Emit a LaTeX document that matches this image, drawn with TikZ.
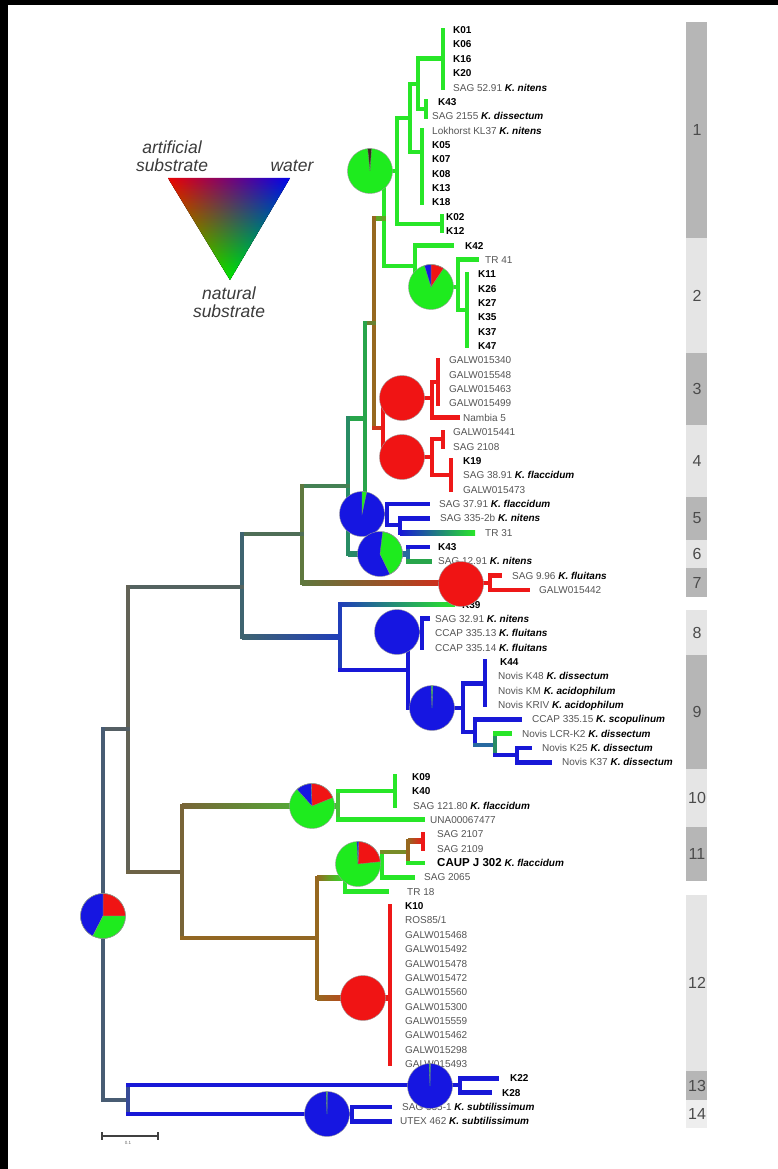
\documentclass[tikz,border=0pt]{standalone}
\usepackage{fontspec}
\setmainfont{Liberation Sans}
\definecolor{cG}{RGB}{40,230,40}
\definecolor{cG2}{RGB}{70,195,55}
\definecolor{cR}{RGB}{238,24,24}
\definecolor{cB}{RGB}{24,24,215}
\definecolor{cBr}{RGB}{150,104,32}
\definecolor{cOl}{RGB}{110,112,60}
\definecolor{cOG}{RGB}{95,120,62}
\definecolor{cOB}{RGB}{120,100,55}
\definecolor{cOlG}{RGB}{120,140,40}
\definecolor{cTeal}{RGB}{40,140,100}
\definecolor{cTB}{RGB}{40,105,160}
\definecolor{cGT}{RGB}{40,165,75}
\definecolor{cSl}{RGB}{72,92,115}
\definecolor{cSlB}{RGB}{55,75,150}
\definecolor{cGy}{RGB}{98,98,86}
\definecolor{cTG}{RGB}{62,100,112}
\definecolor{cBl2}{RGB}{32,62,185}
\definecolor{cBrR}{RGB}{165,75,35}
\definecolor{labgray}{RGB}{85,85,85}
\definecolor{numgray}{RGB}{75,75,75}
\definecolor{leggray}{RGB}{60,60,60}
\definecolor{bandD}{RGB}{182,182,182}
\definecolor{bandL}{RGB}{229,229,229}
\definecolor{bandLL}{RGB}{238,238,238}
\definecolor{pR}{RGB}{240,20,20}
\definecolor{pG}{RGB}{30,235,30}
\definecolor{pB}{RGB}{22,22,225}
\definecolor{pK}{RGB}{60,40,30}
\definecolor{lgR}{RGB}{240,0,0}
\definecolor{lgB}{RGB}{0,0,240}
\definecolor{lgG}{RGB}{0,225,0}
\newcommand\hl[4]{\draw[br,#4] (#1,#3) -- (#2,#3);}
\newcommand\vl[4]{\draw[br,#4] (#1,#2) -- (#1,#3);}
\newcommand\hg[5]{\fill[left color=#4,right color=#5] (#1,{#3-2.4}) rectangle (#2,{#3+2.4});}
\newcommand\pbase[3]{\fill[#3] (#1,#2) circle[radius=22.5pt];}
\newcommand\pw[5]{\filldraw[fill=#5,draw=black!45,line width=0.3pt] (#1,#2) -- ++(#3:22.5pt) arc[start angle=#3,end angle=#4,radius=22.5pt] -- cycle;}
\newcommand\pout[2]{\draw[black!40,line width=0.4pt] (#1,#2) circle[radius=22.5pt];}
\newcommand\lf[3]{\node[lab] (t#1) at (#2,{30+14.36*#1+3.6}) {#3};}
\newcommand\kb[1]{{\color{black}\bfseries #1}}
\newcommand\spn[1]{{\color{black}\bfseries\itshape #1}}
\newcommand\bnd[4]{\fill[#4] (686,#1) rectangle (707,#2); \node[bandlab] (b#3) at (697,{(#1+#2)/2}) {#3};}
\begin{document}
\begin{tikzpicture}[x=1pt,y=-1pt,
  br/.style={line width=4.8pt,line cap=rect},
  lab/.style={anchor=base west,inner sep=0pt,font=\fontsize{10}{12}\selectfont,text=labgray},
  bandlab/.style={inner sep=0pt,font=\fontsize{16}{18}\selectfont,text=numgray},
  leg/.style={anchor=base,inner sep=0pt,font=\fontsize{17.5}{20}\selectfont\itshape,text=leggray}]
\useasboundingbox (0,0) rectangle (778,1169);
\fill[white] (0,0) rectangle (778,1169);
% bands
\bnd{22}{238}{1}{bandD}
\bnd{238}{353}{2}{bandL}
\bnd{353}{425}{3}{bandD}
\bnd{425}{497}{4}{bandL}
\bnd{497}{540}{5}{bandD}
\bnd{540}{568}{6}{bandL}
\bnd{568}{597}{7}{bandD}
\bnd{610}{655}{8}{bandL}
\bnd{655}{769}{9}{bandD}
\bnd{769}{827}{10}{bandL}
\bnd{827}{881}{11}{bandD}
\bnd{895}{1071}{12}{bandL}
\bnd{1071}{1100}{13}{bandD}
\bnd{1100}{1128}{14}{bandLL}
% legend triangle (barycentric colour blend built from thin strips)
\begin{scope}
\clip (168,178) -- (290,178) -- (230,280) -- cycle;
\foreach \i in {0,...,50}{
  \pgfmathsetmacro\ta{\i/51}
  \pgfmathsetmacro\tb{(\i+1)/51}
  \pgfmathsetmacro\tm{(\i+0.5)*100/51}
  \fill[left color=lgG!\tm!lgR,right color=lgG!\tm!lgB]
    ({167+63*\ta},{178+102*\ta-0.2}) rectangle ({291-61*\ta},{178+102*\tb+1.6});
}
\end{scope}
\node[leg] (la1) at (172,154) {artificial};
\node[leg] (la2) at (172,172) {substrate};
\node[leg] (lw) at (292,172) {water};
\node[leg] (ln1) at (229,299) {natural};
\node[leg] (ln2) at (229,317) {substrate};
% ---- tree ----
% clade 1
\vl{443}{30}{87.4}{cG}
\hl{418}{443}{58.7}{cG}
\vl{426}{101.8}{116.2}{cG}
\hl{418}{426}{109}{cG}
\vl{418}{58.7}{109}{cG}
\hl{410}{418}{84}{cG}
\vl{422}{130.5}{202.3}{cG}
\hl{410}{422}{152}{cG}
\vl{410}{84}{152}{cG}
\hl{397}{410}{118}{cG}
\vl{442}{216.7}{231}{cG}
\hl{397}{442}{224}{cG}
\vl{397}{118}{224}{cG}
\hl{370}{397}{171}{cG}
\vl{384}{171}{266}{cG}
\hl{384}{415}{266}{cG}
% clade 2
\hl{415}{452}{245.4}{cG}
\vl{415}{245.4}{287}{cG}
\hl{415}{458}{287}{cG}
\vl{458}{259.8}{310}{cG}
\hl{458}{477}{259.8}{cG}
\hl{458}{467}{310}{cG}
\vl{467}{274.1}{345.9}{cG}
% backbone
\hl{374}{384}{218.5}{cBr!50!cG}
\vl{374}{218.5}{428}{cBr}
\hl{365}{374}{323}{cBr!60!cGT}
\vl{365}{323}{514}{cGT}
\hl{348}{365}{418.5}{cGT}
\vl{348}{418.5}{554}{cTeal}
\hl{302}{348}{486}{cTeal!60!cOl}
\vl{302}{486}{583}{cOG}
\hl{242}{302}{534}{cTG!50!cOG}
\vl{242}{534}{637}{cTG}
\hl{128}{242}{587}{cGy!60!cTG}
\vl{128}{587}{872}{cGy}
\hl{103}{128}{729}{cGy!50!cSl}
\vl{103}{729}{1100}{cSl}
% clades 3 and 4
\hl{374}{383}{428}{cBr!40!cR}
\vl{383}{398}{457}{cR}
\hl{383}{432}{398}{cR}
\vl{432}{382}{418}{cR}
\hl{432}{438}{382}{cR}
\vl{438}{360.3}{403.4}{cR}
\hl{432}{458}{417.7}{cR}
\hl{383}{432}{457}{cR}
\vl{432}{439}{475}{cR}
\hl{432}{443}{439}{cR}
\vl{443}{432}{446.4}{cR}
\hl{432}{451}{475}{cR}
\vl{451}{460.8}{489.5}{cR}
% clade 5
\hl{365}{387}{514}{cB}
\vl{387}{503.9}{525}{cB}
\hl{387}{428}{503.9}{cB}
\hl{387}{400}{525}{cB}
\vl{400}{518.2}{532.6}{cB}
\hl{400}{428}{518.2}{cB}
\hg{400}{475}{532.6}{cB}{cG}
% clade 6
\hg{348}{408}{554}{cTeal}{cTB}
\vl{408}{547}{561.3}{cTB}
\hl{408}{428}{547}{cB}
\hl{408}{430}{561.3}{cGT}
% clade 7
\hg{302}{400}{583}{cOG}{cBrR}
\hg{400}{470}{583}{cBrR}{cR}
\hl{470}{490}{583}{cR}
\vl{490}{575.7}{590}{cR}
\hl{490}{500}{575.7}{cR}
\hl{490}{528}{590}{cR}
% clade 8
\hg{242}{340}{637}{cTG}{cBl2}
\vl{340}{604.4}{670}{cBl2}
\hg{340}{455}{604.4}{cBl2}{cG}
\hl{340}{408}{670}{cB}
\vl{408}{632}{708}{cB}
\hl{408}{422}{632}{cB}
\vl{422}{618.8}{647.5}{cB}
\hl{422}{428}{618.8}{cB}
% clade 9
\hl{408}{463}{708}{cB}
\vl{463}{683.4}{732}{cB}
\hl{463}{485}{683.4}{cB}
\vl{485}{661.8}{704.9}{cB}
\hl{463}{475}{732}{cB}
\vl{475}{719.3}{745}{cB}
\hl{475}{520}{719.3}{cB}
\hl{475}{495}{745}{cTB}
\vl{495}{733.6}{755}{cTeal}
\hl{495}{510}{733.6}{cG}
\hl{495}{517}{755}{cB}
\vl{517}{748}{762.4}{cB}
\hl{517}{530}{748}{cB}
\hl{517}{550}{762.4}{cB}
% clades 10-12
\hl{128}{182}{872}{cGy!50!cOB}
\vl{182}{806}{938}{cOB}
\hg{182}{338}{806}{cOB}{cG2}
\vl{338}{791}{820}{cG2}
\hl{338}{395}{791}{cG}
\vl{395}{776.7}{805.4}{cG}
\hl{338}{423}{819.8}{cG}
\hl{182}{317}{938}{cBr!85!cOB}
\vl{317}{878}{998}{cBr}
\hg{317}{345}{878}{cBr}{cG}
\vl{345}{864}{891.6}{cG}
\hl{345}{387}{891.6}{cG}
\hl{345}{382}{864}{cG}
\vl{382}{852}{877.2}{cG}
\hl{382}{413}{877.2}{cG}
\hl{382}{408}{852}{cOlG}
\vl{408}{841}{862.9}{cBr}
\hg{408}{423}{841}{cBr}{cR}
\vl{423}{834.2}{848.5}{cR}
\hl{408}{423}{862.9}{cG}
\hg{317}{390}{998}{cBr}{cR}
\vl{390}{906}{1063.9}{cR}
% clades 13, 14
\hl{103}{128}{1100}{cSl}
\vl{128}{1085}{1114}{cSlB}
\hl{128}{460}{1085}{cB}
\vl{460}{1078.3}{1092.6}{cB}
\hl{460}{497}{1078.3}{cB}
\hl{460}{490}{1092.6}{cB}
\hl{128}{352}{1114}{cB}
\vl{352}{1107}{1121.4}{cB}
\hl{352}{390}{1107}{cB}
\hl{352}{390}{1121.4}{cB}
% scale bar
\draw[black!75,line width=1.3pt] (102,1136) -- (158,1136);
\draw[black!75,line width=1.3pt] (102,1132) -- (102,1140);
\draw[black!75,line width=1.3pt] (158,1132) -- (158,1140);
\node[font=\fontsize{4.5}{5}\selectfont,text=black!60,inner sep=0pt] (sb) at (128,1143) {0.1};
% ---- labels ----
\lf{0}{453}{\kb{K01}}
\lf{1}{453}{\kb{K06}}
\lf{2}{453}{\kb{K16}}
\lf{3}{453}{\kb{K20}}
\lf{4}{453}{SAG 52.91 \spn{K. nitens}}
\lf{5}{438}{\kb{K43}}
\lf{6}{432}{SAG 2155 \spn{K. dissectum}}
\lf{7}{432}{Lokhorst KL37 \spn{K. nitens}}
\lf{8}{432}{\kb{K05}}
\lf{9}{432}{\kb{K07}}
\lf{10}{432}{\kb{K08}}
\lf{11}{432}{\kb{K13}}
\lf{12}{432}{\kb{K18}}
\lf{13}{446}{\kb{K02}}
\lf{14}{446}{\kb{K12}}
\lf{15}{465}{\kb{K42}}
\lf{16}{485}{TR 41}
\lf{17}{478}{\kb{K11}}
\lf{18}{478}{\kb{K26}}
\lf{19}{478}{\kb{K27}}
\lf{20}{478}{\kb{K35}}
\lf{21}{478}{\kb{K37}}
\lf{22}{478}{\kb{K47}}
\lf{23}{449}{GALW015340}
\lf{24}{449}{GALW015548}
\lf{25}{449}{GALW015463}
\lf{26}{449}{GALW015499}
\lf{27}{463}{Nambia 5}
\lf{28}{453}{GALW015441}
\lf{29}{453}{SAG 2108}
\lf{30}{463}{\kb{K19}}
\lf{31}{463}{SAG 38.91 \spn{K. flaccidum}}
\lf{32}{463}{GALW015473}
\lf{33}{439}{SAG 37.91 \spn{K. flaccidum}}
\lf{34}{440}{SAG 335-2b \spn{K. nitens}}
\lf{35}{485}{TR 31}
\lf{36}{438}{\kb{K43}}
\lf{37}{438}{SAG 12.91 \spn{K. nitens}}
\lf{38}{512}{SAG 9.96 \spn{K. fluitans}}
\lf{39}{539}{GALW015442}
\lf{40}{462}{\kb{K39}}
\lf{41}{435}{SAG 32.91 \spn{K. nitens}}
\lf{42}{435}{CCAP 335.13 \spn{K. fluitans}}
\lf{43}{435}{CCAP 335.14 \spn{K. fluitans}}
\lf{44}{500}{\kb{K44}}
\lf{45}{498}{Novis K48 \spn{K. dissectum}}
\lf{46}{498}{Novis KM \spn{K. acidophilum}}
\lf{47}{498}{Novis KRIV \spn{K. acidophilum}}
\lf{48}{532}{CCAP 335.15 \spn{K. scopulinum}}
\lf{49}{522}{Novis LCR-K2 \spn{K. dissectum}}
\lf{50}{542}{Novis K25 \spn{K. dissectum}}
\lf{51}{562}{Novis K37 \spn{K. dissectum}}
\lf{52}{412}{\kb{K09}}
\lf{53}{412}{\kb{K40}}
\lf{54}{413}{SAG 121.80 \spn{K. flaccidum}}
\lf{55}{430}{UNA00067477}
\lf{56}{437}{SAG 2107}
\lf{57}{437}{SAG 2109}
\lf{58}{437}{{\color{black}\fontsize{11.5}{12}\selectfont\bfseries CAUP J 302} \spn{K. flaccidum}}
\lf{59}{424}{SAG 2065}
\lf{60}{407}{TR 18}
\lf{61}{405}{\kb{K10}}
\lf{62}{405}{ROS85/1}
\lf{63}{405}{GALW015468}
\lf{64}{405}{GALW015492}
\lf{65}{405}{GALW015478}
\lf{66}{405}{GALW015472}
\lf{67}{405}{GALW015560}
\lf{68}{405}{GALW015300}
\lf{69}{405}{GALW015559}
\lf{70}{405}{GALW015462}
\lf{71}{405}{GALW015298}
\lf{72}{405}{GALW015493}
\lf{73}{510}{\kb{K22}}
\lf{74}{502}{\kb{K28}}
\lf{75}{402}{SAG 335-1 \spn{K. subtilissimum}}
\lf{76}{400}{UTEX 462 \spn{K. subtilissimum}}
% ---- pies ----
\pbase{370}{171}{pG}\pw{370}{171}{86}{96}{pK}\pout{370}{171}
\pbase{431}{287}{pG}\pw{431}{287}{56}{90}{pR}\pw{431}{287}{90}{107}{pB}\pout{431}{287}
\pbase{402}{398}{pR}\pout{402}{398}
\pbase{402}{457}{pR}\pout{402}{457}
\pbase{362}{514}{pB}\pw{362}{514}{78}{90}{pG}\pout{362}{514}
\pbase{380}{554}{pB}\pw{380}{554}{-64}{83}{pG}\pout{380}{554}
\pbase{461}{584}{pR}\pout{461}{584}
\pbase{397}{632}{pB}\pout{397}{632}
\pbase{432}{708}{pB}\pw{432}{708}{88}{92}{pG}\pout{432}{708}
\pbase{312}{806}{pG}\pw{312}{806}{22}{92}{pR}\pw{312}{806}{92}{132}{pB}\pout{312}{806}
\pbase{358}{864}{pG}\pw{358}{864}{6}{88}{pR}\pw{358}{864}{88}{93}{pB}\pout{358}{864}
\pbase{363}{998}{pR}\pout{363}{998}
\pbase{430}{1086}{pB}\pw{430}{1086}{89}{92}{pG}\pout{430}{1086}
\pbase{327}{1114}{pB}\pw{327}{1114}{89}{92}{pG}\pout{327}{1114}
\pbase{103}{916}{pG}\pw{103}{916}{0}{90}{pR}\pw{103}{916}{90}{243}{pB}\pw{103}{916}{243}{360}{pG}\pout{103}{916}
% black frame strips
\fill[black] (0,0) rectangle (778,5);
\fill[black] (0,0) rectangle (8,1169);
\end{tikzpicture}
\end{document}
